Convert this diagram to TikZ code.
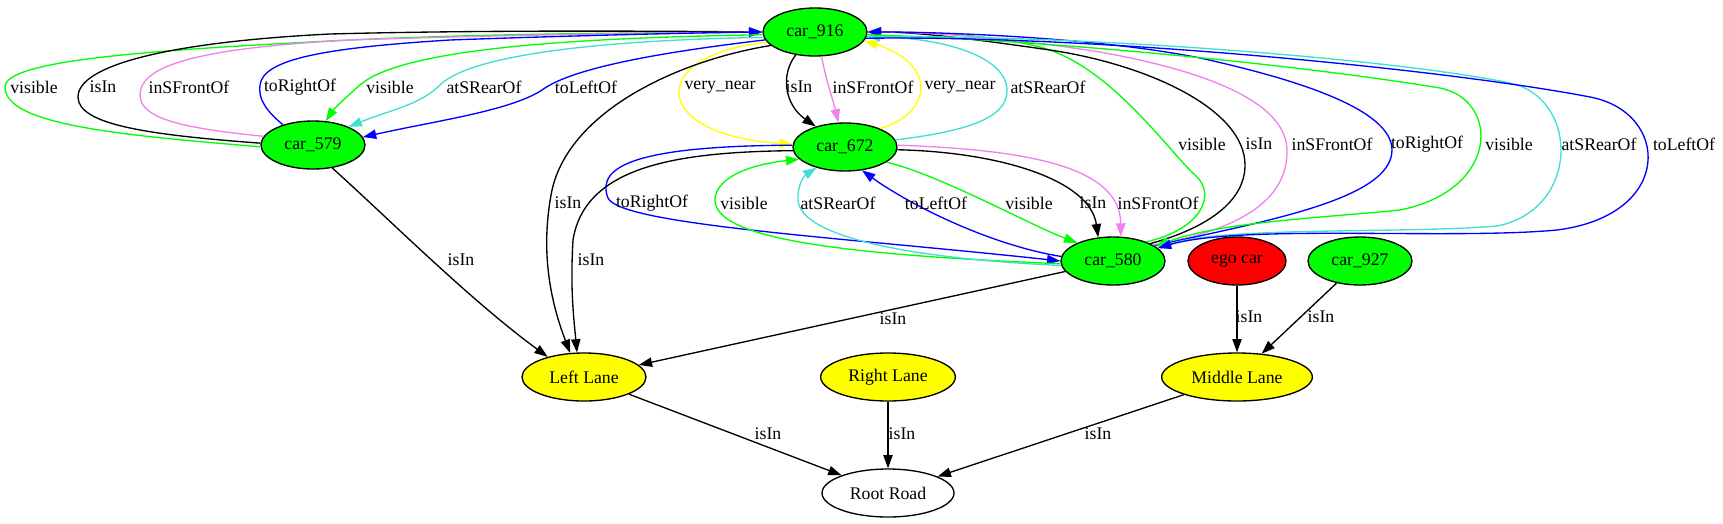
\documentclass[tikz,border=0pt]{standalone}
\usepackage{fontspec}
\setmainfont{Liberation Serif}
\usepackage{tikz}
\usetikzlibrary{arrows.meta,shapes.geometric}
\definecolor{gvgreen}{RGB}{0,255,0}
\definecolor{gvred}{RGB}{255,0,0}
\definecolor{gvyellow}{RGB}{255,255,0}
\definecolor{gvviolet}{RGB}{238,130,238}
\definecolor{gvturq}{RGB}{64,224,208}
\definecolor{gvblue}{RGB}{0,0,255}

\begin{document}
\begin{tikzpicture}[x={(0.75bp,0bp)},y={(0bp,-0.75bp)},
    every node/.style={font=\fontsize{13.3bp}{15bp}\selectfont},
    obj/.style={ellipse,draw,line width=1bp,inner sep=0pt,minimum height=36bp},
    car/.style={obj,fill=gvgreen,minimum width=78bp},
    lane/.style={obj,fill=gvyellow},
    rel/.style={line width=1bp,-{Triangle[length=10bp,width=7bp]}},
    lbl/.style={inner sep=0pt}]
  \useasboundingbox (0,0) rectangle (1723,523);

  \node[car] (c916) at (815,32) {car\_916};
  \node[car] (c672) at (845,147) {car\_672};
  \node[car] (c579) at (313,145) {car\_579};
  \node[car] (c580) at (1113,261) {car\_580};
  \node[obj,fill=gvred,minimum width=73.5bp] (ego) at (1237,261) {ego car};
  \node[car] (c927) at (1360,261) {car\_927};
  \node[lane,minimum width=93bp] (left) at (584,377) {Left Lane};
  \node[lane,minimum width=101bp] (right) at (888,377) {Right Lane};
  \node[lane,minimum width=113bp] (middle) at (1237,377) {Middle Lane};
  \node[obj,minimum width=99bp] (root) at (888,493) {Root Road};

  % car_579 <-> car_916
  \draw[rel,gvgreen] (c579.182) .. controls (120,135) and (5,125) .. (5,87)
    .. controls (5,60) and (150,50) .. (350,40) .. controls (500,33) and (650,33) .. (c916.180);
  \draw[rel] (c579.178) .. controls (150,135) and (78,125) .. (78,97)
    .. controls (78,65) and (170,42) .. (330,34) .. controls (480,30) and (650,31) .. (c916.180);
  \draw[rel,gvviolet] (c579.170) .. controls (180,128) and (140,118) .. (140,95)
    .. controls (140,65) and (200,48) .. (350,40) .. controls (500,35) and (650,33) .. (c916.180);
  \draw[rel,gvblue] (c579.146) .. controls (265,110) and (258,98) .. (260,85)
    .. controls (263,60) and (320,48) .. (450,40) .. controls (560,36) and (680,33) .. (c916.180);
  \draw[rel,gvgreen] (c916.183) .. controls (560,38) and (400,50) .. (360,85)
    .. controls (345,98) and (333,110) .. (c579.62);
  \draw[rel,gvturq] (c916.186) .. controls (600,40) and (470,55) .. (440,85)
    .. controls (420,105) and (390,110) .. (c579.27);
  \draw[rel,gvblue] (c916.189) .. controls (680,50) and (580,65) .. (545,88)
    .. controls (515,110) and (440,120) .. (c579.9);
  \node[lbl] (l1) at (34,87) {visible};
  \node[lbl] (l2) at (103,87) {isIn};
  \node[lbl] (l3) at (189,87) {inSFrontOf};
  \node[lbl] (l4) at (300,87) {toRightOf};
  \node[lbl] (l5) at (390,87) {visible};
  \node[lbl] (l6) at (484,87) {atSRearOf};
  \node[lbl] (l7) at (586,87) {toLeftOf};

  % car_916 <-> car_672
  \draw[rel,gvyellow] (c916.192) .. controls (645,55) and (650,135) .. (c672.177);
  \draw[rel] (c916.230) .. controls (780,75) and (785,105) .. (c672.145);
  \draw[rel,gvviolet] (c916.285) .. controls (826,80) and (833,100) .. (c672.105);
  \draw[rel,gvyellow] (c672.28) .. controls (930,115) and (940,65) .. (c916.350);
  \draw[rel,gvturq] (c672.8) .. controls (960,132) and (1008,120) .. (1007,90)
    .. controls (1006,55) and (940,38) .. (c916.355);
  \node[lbl] (l8) at (720,87) {very\_near};
  \node[lbl] (l9) at (799,87) {isIn};
  \node[lbl] (l10) at (873,87) {inSFrontOf};
  \node[lbl] (l11) at (960,87) {very\_near};
  \node[lbl] (l12) at (1048,87) {atSRearOf};

  % car_672 <-> car_580
  \draw[rel,gvblue] (c672.178) .. controls (640,146) and (595,165) .. (608,198)
    .. controls (620,225) and (850,238) .. (c580.180);
  \draw[rel] (c672.184) .. controls (680,152) and (585,165) .. (573,240)
    .. controls (570,290) and (574,320) .. (left.106);
  \draw[rel,gvgreen] (c580.183) .. controls (850,255) and (715,240) .. (715,200)
    .. controls (715,180) and (745,165) .. (c672.195);
  \draw[rel,gvturq] (c580.185) .. controls (900,258) and (800,235) .. (798,200)
    .. controls (797,185) and (805,175) .. (c672.216);
  \draw[rel,gvblue] (c580.175) .. controls (990,245) and (910,205) .. (c672.306);
  \draw[rel,gvgreen] (c672.340) .. controls (940,175) and (1030,225) .. (c580.153);
  \draw[rel] (c672.357) .. controls (1000,152) and (1090,180) .. (c580.122);
  \draw[rel,gvviolet] (c672.2) .. controls (1040,150) and (1120,170) .. (c580.72);
  \node[lbl] (l13) at (652,203) {toRightOf};
  \node[lbl] (l14) at (744,203) {visible};
  \node[lbl] (l15) at (838,203) {atSRearOf};
  \node[lbl] (l16) at (936,203) {toLeftOf};
  \node[lbl] (l17) at (1029,203) {visible};
  \node[lbl] (l18) at (1093,203) {isIn};
  \node[lbl] (l19) at (1158,203) {inSFrontOf};
  \node[lbl] (l20) at (591,260) {isIn};

  % car_580 <-> car_916
  \draw[rel,gvgreen] (c580.30) .. controls (1200,230) and (1218,195) .. (1195,175)
    .. controls (1170,153) and (1110,65) .. (1040,47) .. controls (990,34) and (920,32) .. (c916.0);
  \draw[rel] (c580.25) .. controls (1200,230) and (1245,205) .. (1245,165)
    .. controls (1245,110) and (1150,65) .. (1050,50) .. controls (980,40) and (920,32) .. (c916.0);
  \draw[rel,gvviolet] (c580.22) .. controls (1240,230) and (1288,200) .. (1287,150)
    .. controls (1286,100) and (1200,70) .. (1100,52) .. controls (1010,38) and (930,32) .. (c916.0);
  \draw[rel,gvblue] (c580.20) .. controls (1260,222) and (1392,200) .. (1392,150)
    .. controls (1392,110) and (1300,80) .. (1200,58) .. controls (1100,38) and (950,32) .. (c916.0);
  \draw[rel,gvgreen] (c916.357) .. controls (1050,40) and (1300,65) .. (1440,88)
    .. controls (1500,100) and (1500,190) .. (1400,210) .. controls (1320,218) and (1220,222) .. (c580.19);
  \draw[rel,gvturq] (c916.355) .. controls (1100,35) and (1400,60) .. (1510,83)
    .. controls (1580,98) and (1580,210) .. (1497,226) .. controls (1400,234) and (1230,226) .. (c580.17);
  \draw[rel,gvblue] (c916.353) .. controls (1100,35) and (1450,70) .. (1590,97)
    .. controls (1670,112) and (1675,215) .. (1557,230) .. controls (1450,240) and (1240,224) .. (c580.16);
  \node[lbl] (l21) at (1202,144) {visible};
  \node[lbl] (l22) at (1259,144) {isIn};
  \node[lbl] (l23) at (1332,144) {inSFrontOf};
  \node[lbl] (l24) at (1427,144) {toRightOf};
  \node[lbl] (l25) at (1509,144) {visible};
  \node[lbl] (l26) at (1599,144) {atSRearOf};
  \node[lbl] (l27) at (1684,144) {toLeftOf};

  % lanes and road
  \draw[rel] (c916.197) .. controls (680,60) and (570,110) .. (552,190)
    .. controls (540,250) and (550,300) .. (left.120);
  \draw[rel] (c579.310) .. controls (390,220) and (470,300) .. (left.151);
  \draw[rel] (c580) -- (left);
  \draw[rel] (ego) -- (middle);
  \draw[rel] (c927) -- (middle);
  \draw[rel] (left) -- (root);
  \draw[rel] (right) -- (root);
  \draw[rel] (middle) -- (root);
  \node[lbl] (l28) at (568,203) {isIn};
  \node[lbl] (l29) at (461,260) {isIn};
  \node[lbl] (l30) at (893,319) {isIn};
  \node[lbl] (l31) at (1249,317) {isIn};
  \node[lbl] (l32) at (1321,317) {isIn};
  \node[lbl] (l33) at (768,434) {isIn};
  \node[lbl] (l34) at (902,434) {isIn};
  \node[lbl] (l35) at (1098,434) {isIn};
\end{tikzpicture}
\end{document}
